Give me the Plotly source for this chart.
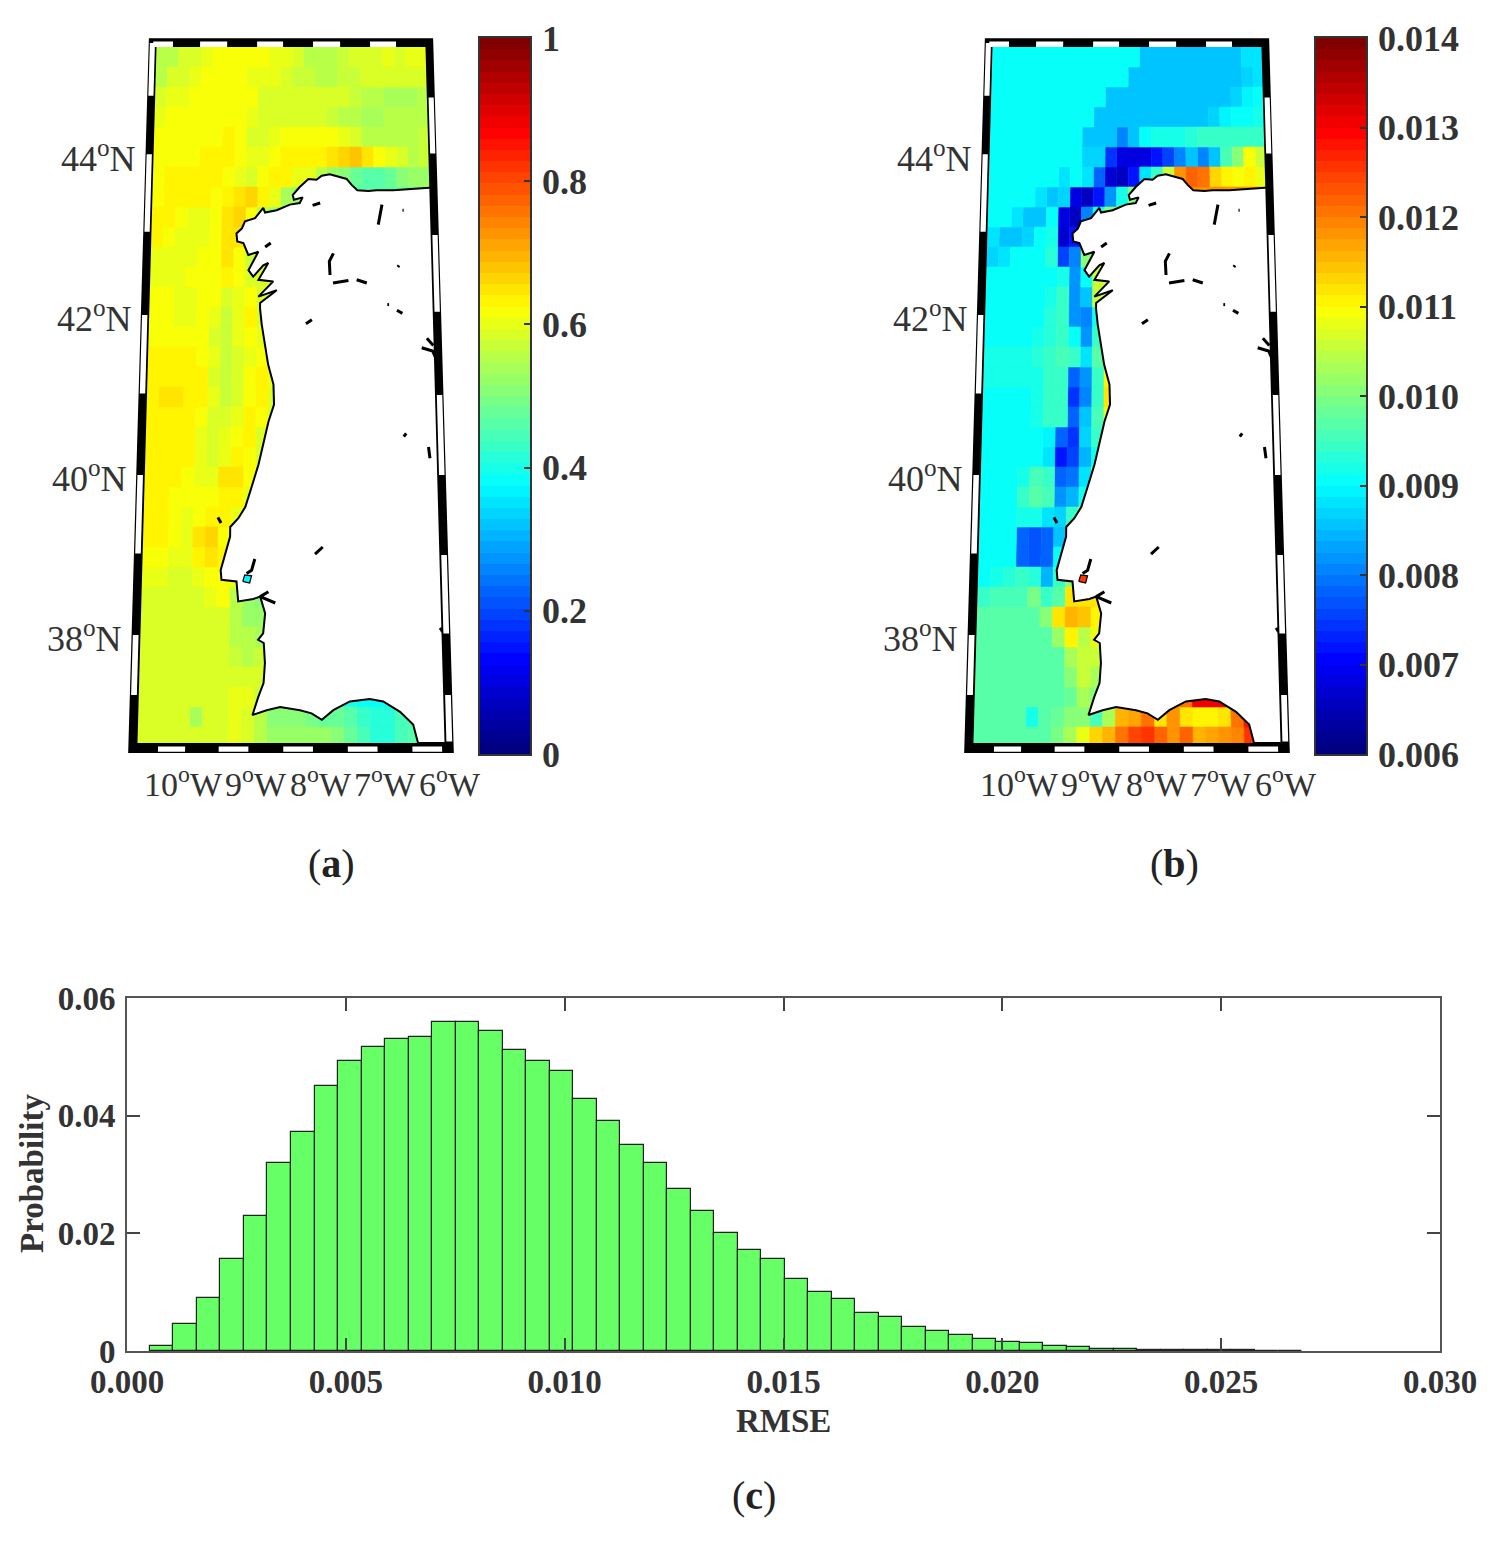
# -*- coding: utf-8 -*-
"""Two coastal maps of Portugal and Galicia with their colour bars, and an RMSE histogram."""

import plotly.graph_objects as go

WIDTH = 1503
HEIGHT = 1542
SERIF = "Liberation Serif"
INK = "#333333"

# --- map grid: 0.2 deg lon x 0.25 deg lat cells, rows run north to south
LON_WEST, LON_EAST = -10.72, -5.96
LAT_NORTH, LAT_SOUTH = 45.4, 36.7
CELL_LON = 0.2
CELL_LAT = 0.25

# left map, values x 100
score_rows = [
    [55, 56, 58, 59, 60, 61, 61, 61, 61, 61, 60, 60, 59, 56, 56, 56, 57, 58, 58, 59, 60, 59, 60, 60],
    [56, 58, 59, 60, 61, 61, 61, 61, 60, 60, 60, 58, 57, 57, 56, 56, 57, 57, 58, 58, 58, 59, 59, 58],
    [59, 60, 60, 61, 62, 62, 62, 62, 61, 59, 58, 58, 58, 58, 58, 58, 58, 57, 56, 55, 54, 54, 54, 55],
    [60, 61, 62, 62, 62, 62, 62, 61, 60, 58, 58, 58, 58, 58, 58, 57, 56, 55, 54, 54, 55, 55, 55, 55],
    [61, 62, 62, 62, 62, 62, 63, 61, 59, 58, 60, 61, 62, 62, 62, 61, 60, 58, 56, 55, 55, 56, 56, 57],
    [62, 62, 62, 62, 63, 63, 63, 62, 60, 60, 62, 63, 64, 63, 63, 65, 67, 68, 65, 62, 60, 58, 56, 57],
    [62, 63, 63, 64, 64, 64, 62, 60, 59, 62, 64, 63, 60, 60, 55, 52, 50, 47, 46, 46, 48, 50, 52, 52],
    [62, 64, 64, 64, 64, 62, 63, 65, 66, 63, 60, 54, 50, 46, 46, 46, 46, 46, 46, 46, 46, 46, 46, 46],
    [64, 63, 62, 60, 60, 62, 65, 67, 62, 55, 52, 50],
    [63, 62, 60, 60, 60, 61, 65, 65],
    [60, 60, 60, 60, 61, 62, 65, 62, 57, 56],
    [60, 60, 60, 61, 61, 61, 63, 61, 58, 58, 58],
    [61, 61, 60, 60, 61, 61, 59, 60, 61, 58, 58],
    [62, 61, 60, 60, 61, 60, 57, 60, 63, 59],
    [62, 62, 62, 61, 61, 58, 57, 60, 62, 60],
    [63, 63, 64, 63, 62, 60, 57, 58, 60, 61, 60],
    [64, 64, 64, 64, 63, 59, 57, 58, 62, 63, 60],
    [64, 65, 65, 64, 63, 60, 57, 58, 62, 63, 58],
    [64, 64, 64, 64, 62, 58, 58, 60, 64, 61, 59],
    [64, 64, 64, 63, 60, 58, 60, 62, 64, 59, 59],
    [64, 64, 64, 63, 60, 58, 60, 64, 61, 59],
    [64, 64, 64, 61, 60, 60, 65, 65, 62, 58],
    [64, 64, 62, 61, 61, 62, 63, 63, 60],
    [64, 64, 62, 60, 62, 63, 63, 60, 58],
    [64, 63, 61, 60, 65, 66, 62],
    [62, 61, 60, 60, 63, 65, 63],
    [60, 60, 59, 59, 60, 62, 62, 60],
    [59, 59, 59, 59, 59, 60, 61, 56, 52, 50],
    [59, 59, 59, 59, 59, 59, 58, 55, 52, 52],
    [59, 59, 59, 59, 59, 59, 58, 56, 55, 54],
    [59, 59, 59, 59, 59, 59, 58, 57, 55, 57],
    [59, 59, 59, 59, 59, 59, 59, 59, 58, 58],
    [59, 59, 59, 59, 59, 59, 59, 60, 60, 57, 50, 50, 48, 46, 44, 42, 40, 38, 38, 38, 40, 42, 44],
    [59, 59, 59, 59, 54, 59, 59, 60, 58, 55, 50, 50, 50, 49, 48, 48, 46, 43, 42, 42, 44, 45, 46],
    [59, 59, 59, 59, 59, 59, 59, 60, 59, 55, 53, 53, 53, 52, 52, 51, 48, 45, 42, 41, 45, 46],
]

# right map, values x 10000
rmse_rows = [
    [90, 90, 90, 90, 90, 90, 90, 90, 90, 90, 90, 90, 90, 86, 86, 86, 86, 86, 86, 86, 86, 86, 88, 88],
    [90, 90, 90, 90, 90, 90, 90, 90, 90, 90, 90, 90, 86, 86, 86, 86, 86, 86, 86, 86, 86, 86, 87, 88],
    [90, 90, 90, 90, 90, 90, 90, 90, 90, 90, 86, 86, 86, 86, 86, 86, 86, 86, 86, 86, 86, 87, 89, 90],
    [90, 90, 90, 90, 90, 90, 90, 90, 90, 86, 86, 86, 86, 86, 86, 86, 86, 86, 86, 87, 89, 90, 90, 92],
    [90, 90, 90, 90, 90, 90, 90, 90, 86, 86, 86, 80, 86, 91, 92, 92, 92, 93, 94, 94, 95, 95, 95, 95],
    [90, 90, 90, 90, 90, 90, 90, 90, 87, 87, 74, 68, 68, 68, 72, 75, 80, 85, 80, 85, 96, 100, 109, 106],
    [90, 90, 90, 90, 90, 90, 88, 90, 88, 78, 67, 66, 72, 88, 95, 105, 118, 122, 120, 113, 110, 109, 110, 108],
    [90, 90, 90, 90, 88, 86, 87, 68, 66, 72, 82, 92, 100, 118, 118, 118, 118, 118, 118, 118, 118, 118, 118, 118],
    [90, 90, 88, 86, 86, 90, 68, 66, 80, 92, 100, 108],
    [88, 86, 86, 87, 90, 92, 67, 72, 90],
    [87, 88, 90, 90, 91, 93, 76, 80, 100, 105],
    [90, 90, 90, 90, 91, 91, 92, 82, 90, 105, 105],
    [90, 90, 90, 90, 90, 92, 94, 82, 85, 105, 105],
    [90, 90, 90, 90, 91, 93, 94, 82, 80, 92],
    [91, 91, 91, 91, 92, 93, 94, 90, 82, 94],
    [92, 92, 92, 92, 93, 95, 96, 95, 88, 97, 100],
    [92, 92, 92, 92, 92, 94, 95, 78, 82, 95, 110],
    [91, 91, 91, 91, 92, 94, 94, 74, 80, 94, 112],
    [90, 90, 90, 90, 92, 95, 95, 78, 85, 96, 108],
    [90, 90, 90, 90, 90, 89, 78, 74, 87, 95, 105],
    [90, 90, 90, 90, 90, 88, 72, 76, 84, 92],
    [90, 90, 90, 92, 96, 94, 78, 79, 88, 100],
    [90, 90, 91, 94, 97, 96, 82, 84, 92],
    [90, 90, 91, 92, 92, 88, 87, 95, 112],
    [90, 90, 91, 78, 77, 78, 86],
    [91, 91, 90, 78, 77, 78, 90],
    [91, 92, 93, 94, 93, 84, 95, 100],
    [95, 96, 96, 96, 99, 95, 97, 112, 112, 112],
    [97, 97, 97, 97, 97, 100, 112, 116, 114, 110],
    [97, 97, 97, 97, 97, 97, 102, 111, 104, 108],
    [97, 97, 97, 97, 97, 97, 97, 103, 106, 105],
    [97, 97, 97, 97, 97, 97, 97, 100, 105, 103],
    [97, 97, 97, 97, 97, 97, 97, 98, 103, 100, 110, 112, 114, 114, 112, 116, 120, 130, 131, 130, 125, 122, 120],
    [97, 97, 97, 97, 92, 97, 98, 100, 100, 96, 103, 115, 117, 120, 112, 118, 112, 110, 110, 112, 120, 128, 125],
    [97, 97, 97, 97, 97, 97, 99, 103, 108, 113, 116, 121, 124, 125, 122, 118, 122, 115, 117, 118, 119, 125],
]
score_scale = 0.01
rmse_scale = 0.0001

# --- coastline, west coast from the eastern map edge round to the south coast
coast_lon = [
    -5.96, -6.24, -6.58, -6.87, -7.01, -7.20, -7.30, -7.38, -7.55, -7.67, -7.81, -7.90, -8.04, -8.19,
    -8.31, -8.29, -8.14, -8.19, -8.36, -8.585, -8.785, -8.815, -8.955, -9.126, -9.18, -9.27, -9.255,
    -9.15, -9.065, -8.895, -9.06, -8.98, -8.81, -8.725, -8.89, -8.64, -8.89, -8.58, -8.86, -8.86,
    -8.83, -8.77, -8.72, -8.63, -8.62, -8.71, -8.82, -8.87, -8.98, -9.08, -9.19, -9.32, -9.32, -9.38,
    -9.465, -9.45, -9.21, -9.18, -8.94, -8.83, -8.75, -8.78, -8.86, -8.77, -8.75, -8.77, -8.85, -8.94,
    -8.72, -8.51, -8.20, -8.02, -7.86, -7.68, -7.42, -7.11, -6.90, -6.64, -6.44, -6.37,
]
coast_lat = [
    43.64, 43.63, 43.61, 43.61, 43.60, 43.61, 43.68, 43.75, 43.78, 43.81, 43.79, 43.74, 43.75, 43.65,
    43.55, 43.49, 43.52, 43.45, 43.43, 43.36, 43.33, 43.39, 43.26, 43.22, 43.13, 43.07, 42.97,
    42.95, 42.80, 42.84, 42.61, 42.53, 42.67, 42.70, 42.49, 42.47, 42.28, 42.36, 42.20, 42.13,
    41.93, 41.67, 41.43, 41.18, 40.93, 40.72, 40.36, 40.18, 39.90, 39.65, 39.51, 39.40, 39.28, 39.11,
    38.86, 38.74, 38.72, 38.47, 38.50, 38.53, 38.32, 38.07, 37.99, 37.95, 37.70, 37.45, 37.28, 37.05,
    37.11, 37.15, 37.11, 37.07, 36.99, 37.11, 37.22, 37.25, 37.22, 37.09, 36.93, 36.70,
]

# rivers and reservoirs drawn as short black strokes (lon list, lat list)
inland_strokes = [
    ([-7.97, -7.84], [43.42, 43.45]),
    ([-6.85, -6.78], [43.18, 43.43]),
    ([-6.43, -6.41], [43.36, 43.36]),
    ([-8.78, -8.685], [42.90, 42.95]),
    ([-7.68, -7.69, -7.62], [42.55, 42.72, 42.82]),
    ([-7.63, -7.37], [42.45, 42.48]),
    ([-7.23, -7.06], [42.49, 42.45]),
    ([-6.53, -6.51], [42.65, 42.67]),
    ([-6.72, -6.69], [42.18, 42.18]),
    ([-6.56, -6.47], [42.11, 42.07]),
    ([-8.09, -7.99], [41.94, 41.99]),
    ([-6.16, -5.98, -5.94], [41.64, 41.60, 41.53]),
    ([-6.07, -5.965], [41.76, 41.67]),
    ([-6.49, -6.45], [40.53, 40.57]),
    ([-6.09, -6.07], [40.40, 40.26]),
    ([-7.955, -7.83], [39.06, 39.15]),
    ([-9.52, -9.47], [39.52, 39.45]),
    ([-9.05, -8.97, -8.92], [38.82, 38.86, 39.00]),
    ([-8.70, -8.83, -8.59], [38.59, 38.53, 38.45]),
    ([-5.98, -5.94], [38.14, 38.09]),
]

# Tagus estuary, filled with its own value on each map
estuary_lon = [-9.11, -9.08, -8.97, -9.00]
estuary_lat = [38.72, 38.80, 38.79, 38.70]
estuary_score = 0.37
estuary_rmse = 0.0125

# white segments of the fancy map frame
top_white = [(-10.78, -10.43), (-9.95, -9.47), (-8.94, -8.48), (-7.95, -7.47), (-6.94, -6.48)]
bottom_white = [(-10.4, -9.98), (-9.46, -9.0), (-8.46, -8.0), (-7.46, -7.0), (-6.46, -6.0)]
left_white = [(45.45, 44.79), (44.06, 43.09), (42.05, 41.07), (40.05, 39.07), (38.05, 37.3)]
right_white = [(44.77, 44.07), (43.05, 42.09), (41.05, 40.05), (39.05, 38.07), (37.3, 36.72)]

lat_ticks = [44, 42, 40, 38]
lon_ticks = [-10, -9, -8, -7, -6]

# --- histogram
rmse_bin_start = 0.000525
rmse_bin_width = 0.000537
rmse_probability = [
    0.0008, 0.00465, 0.0090, 0.0156, 0.0230, 0.0320, 0.0373, 0.0450, 0.0493, 0.0516, 0.0530, 0.0533,
    0.0560, 0.0560, 0.0544, 0.0512, 0.0493, 0.0476, 0.0428, 0.0391, 0.0350, 0.0320, 0.0275, 0.0238,
    0.0200, 0.0172, 0.0156, 0.0122, 0.0100, 0.0088, 0.0065, 0.0058, 0.0041, 0.0034, 0.0027, 0.0020,
    0.0015, 0.0013, 0.0008, 0.0006, 0.0004, 0.0003, 0.00025, 0.0002, 0.00015, 0.0001, 0.0001,
    0.00008, 0.00006,
]
hist_x_ticks = [0.0, 0.005, 0.01, 0.015, 0.02, 0.025, 0.03]
hist_y_ticks = [0, 0.02, 0.04, 0.06]
hist_y_labels = ["0", "0.02", "0.04", "0.06"]

score_bar_ticks = [0, 0.2, 0.4, 0.6, 0.8, 1]
score_bar_labels = ["0", "0.2", "0.4", "0.6", "0.8", "1"]
rmse_bar_ticks = [0.006, 0.007, 0.008, 0.009, 0.010, 0.011, 0.012, 0.013, 0.014]
rmse_bar_labels = ["0.006", "0.007", "0.008", "0.009", "0.010", "0.011", "0.012", "0.013", "0.014"]

N_LEVELS = 64


def jet_rgb(t):
    """MATLAB jet"""
    parts = []
    for c in (3, 2, 1):
        parts.append(int(round(255 * max(0.0, min(1.0, 1.5 - abs(4 * t - c))))))
    return "rgb(%d,%d,%d)" % tuple(parts)


def level_of(value, vmin, vmax):
    t = (value - vmin) / (vmax - vmin)
    return max(0, min(N_LEVELS - 1, int(t * N_LEVELS)))


def project(lon, lat):
    # meridians converge towards the north, unit is one degree at the southern edge
    k = 56.5 + (LAT_NORTH - lat) * 0.92
    return (lon + 8.34) * k / 64.5


def dx(px):
    return px / WIDTH


def dy(py):
    return 1 - py / HEIGHT


def ring(lons, lats):
    xs = [project(a, b) for a, b in zip(lons, lats)]
    ys = list(lats)
    return xs + [xs[0]], ys + [ys[0]]


def quad(lon0, lon1, lat0, lat1):
    return ring([lon0, lon1, lon1, lon0], [lat0, lat0, lat1, lat1])


def add_polygons(fig, polys, color, xa, ya, line_color=None, line_width=0):
    xs, ys = [], []
    for x, y in polys:
        xs += x + [None]
        ys += y + [None]
    fig.add_trace(go.Scatter(
        x=xs, y=ys, mode="lines", fill="toself", fillcolor=color,
        line=dict(color=line_color or color, width=line_width),
        xaxis=xa, yaxis=ya, hoverinfo="skip", showlegend=False,
    ))


def add_map(fig, rows, scale, vmin, vmax, estuary_value, left_px, xa, ya):
    by_level = {}
    for i, row in enumerate(rows):
        for j, v in enumerate(row):
            lon0 = LON_WEST + j * CELL_LON
            lat1 = LAT_NORTH - i * CELL_LAT
            lv = level_of(v * scale, vmin, vmax)
            by_level.setdefault(lv, []).append(quad(lon0, lon0 + CELL_LON, lat1 - CELL_LAT, lat1))
    for lv in sorted(by_level):
        add_polygons(fig, by_level[lv], jet_rgb(lv / (N_LEVELS - 1)), xa, ya, line_width=0.6)

    # land on top of the grid
    land_lon = coast_lon + [LON_EAST + 0.04, LON_EAST + 0.04]
    land_lat = coast_lat + [LAT_SOUTH, coast_lat[0]]
    add_polygons(fig, [ring(land_lon, land_lat)], "white", xa, ya, line_color="black", line_width=2)
    est = jet_rgb(level_of(estuary_value, vmin, vmax) / (N_LEVELS - 1))
    add_polygons(fig, [ring(estuary_lon, estuary_lat)], est, xa, ya, line_color="black", line_width=1.2)
    for lons, lats in inland_strokes:
        fig.add_trace(go.Scatter(
            x=[project(a, b) for a, b in zip(lons, lats)], y=lats, mode="lines",
            line=dict(color="black", width=3), xaxis=xa, yaxis=ya,
            hoverinfo="skip", showlegend=False,
        ))

    # frame: black band then white dashes
    lon_out_w, lon_out_e = LON_WEST - 0.14, LON_EAST + 0.14
    lat_out_n, lat_out_s = LAT_NORTH + 0.11, LAT_SOUTH - 0.125
    black = [
        quad(lon_out_w, lon_out_e, LAT_NORTH, lat_out_n),
        quad(lon_out_w, lon_out_e, lat_out_s, LAT_SOUTH),
        quad(lon_out_w, LON_WEST, lat_out_s, lat_out_n),
        quad(LON_EAST, lon_out_e, lat_out_s, lat_out_n),
    ]
    add_polygons(fig, black, "black", xa, ya)
    white = []
    for a, b in top_white:
        white.append(quad(a, b, LAT_NORTH + 0.0, LAT_NORTH + 0.07))
    for a, b in bottom_white:
        white.append(quad(a, b, LAT_SOUTH - 0.11, LAT_SOUTH - 0.045))
    for a, b in left_white:
        white.append(quad(LON_WEST - 0.12, LON_WEST - 0.03, b, a))
    for a, b in right_white:
        white.append(quad(LON_EAST + 0.03, LON_EAST + 0.12, b, a))
    add_polygons(fig, white, "white", xa, ya)

    # graticule labels
    for lat in lat_ticks:
        fig.add_annotation(
            x=project(lon_out_w, lat), y=lat, xref=xa, yref=ya, xanchor="right", yanchor="middle",
            xshift=-7, yshift=3, text="%d<sup>o</sup>N" % lat, showarrow=False,
            font=dict(family=SERIF, size=36, color=INK),
        )
    for lon in lon_ticks:
        fig.add_annotation(
            x=project(lon, LAT_SOUTH), y=LAT_SOUTH, xref=xa, yref=ya, xanchor="right", yanchor="middle",
            yshift=-39, xshift=41, text="%d<sup>o</sup>W" % abs(lon), showarrow=False,
            font=dict(family=SERIF, size=34, color=INK),
        )

    # axes: window of 350 x 745 px, 64.5 px = 1 unit and 80 px = 1 degree of latitude
    x_range = [(120 - 291) / 64.5, (470 - 291) / 64.5]
    y_range = [LAT_NORTH - (770 - 47) / 80, LAT_NORTH - (25 - 47) / 80]
    return dict(domain=[dx(left_px), dx(left_px + 350)], range=x_range, visible=False, automargin=False), \
        dict(domain=[dy(770), dy(25)], range=y_range, visible=False, automargin=False)


def add_colorbar(fig, vmin, vmax, left_px, xa, ya, ticks, labels):
    step = (vmax - vmin) / N_LEVELS
    fig.add_trace(go.Heatmap(
        z=[[i] for i in range(N_LEVELS)], x=[0], y=[vmin + (i + 0.5) * step for i in range(N_LEVELS)],
        zmin=0, zmax=N_LEVELS - 1, showscale=False, hoverinfo="skip",
        colorscale=[[i / (N_LEVELS - 1), jet_rgb(i / (N_LEVELS - 1))] for i in range(N_LEVELS)],
        xaxis=xa, yaxis=ya,
    ))
    x_axis = dict(domain=[dx(left_px), dx(left_px + 50)], range=[-0.5, 0.5], showticklabels=False,
                  ticks="", showgrid=False, zeroline=False, showline=True, linecolor="#333333",
                  linewidth=1.5, mirror=True, anchor=ya, automargin=False)
    y_axis = dict(domain=[dy(754), dy(38)], range=[vmin, vmax], side="right", anchor=xa,
                  tickvals=ticks, ticktext=labels, ticks="inside", ticklen=6, tickwidth=1.5,
                  tickcolor="#333333", showgrid=False, zeroline=False, showline=True,
                  linecolor="#333333", linewidth=1.5, mirror=True, automargin=False,
                  ticklabelstandoff=3, tickfont=dict(family=SERIF, size=36, color=INK, weight=700))
    return x_axis, y_axis


fig = go.Figure()

x1, y1 = add_map(fig, score_rows, score_scale, 0.0, 1.0, estuary_score, 120, "x", "y")
x2, y2 = add_map(fig, rmse_rows, rmse_scale, 0.006, 0.014, estuary_rmse, 956, "x2", "y2")
x3, y3 = add_colorbar(fig, 0.0, 1.0, 480, "x3", "y3", score_bar_ticks, score_bar_labels)
x4, y4 = add_colorbar(fig, 0.006, 0.014, 1316, "x4", "y4", rmse_bar_ticks, rmse_bar_labels)

# histogram bars
fig.add_trace(go.Bar(
    x=[rmse_bin_start + (i + 0.5) * rmse_bin_width for i in range(len(rmse_probability))],
    y=rmse_probability, width=rmse_bin_width,
    marker=dict(color="#66ff66", line=dict(color="#222222", width=1.2)),
    xaxis="x5", yaxis="y5", showlegend=False,
))

hist_font = dict(family=SERIF, size=33, color=INK, weight=700)
x5 = dict(domain=[dx(127), dx(1440)], range=[0, 0.03], tickvals=hist_x_ticks, tickformat=".3f",
          ticks="inside", ticklen=13, tickwidth=1.5, tickcolor="#444444", showgrid=False, zeroline=False,
          showline=True, linecolor="#555555", linewidth=2, mirror="ticks", tickfont=hist_font,
          ticklabelstandoff=0, automargin=False, anchor="y5")
y5 = dict(domain=[dy(1351), dy(998)], range=[0, 0.06], tickvals=hist_y_ticks, ticktext=hist_y_labels,
          ticks="inside", ticklen=13, tickwidth=1.5, tickcolor="#444444", showgrid=False, zeroline=False,
          showline=True, linecolor="#555555", linewidth=2, mirror="ticks", tickfont=hist_font,
          ticklabelstandoff=3, automargin=False, anchor="x5")

fig.add_annotation(x=dx(783), y=dy(1421), xref="paper", yref="paper", text="RMSE", showarrow=False,
                   font=hist_font, xanchor="center", yanchor="middle")
fig.add_annotation(x=dx(32), y=dy(1174), xref="paper", yref="paper", text="Probability", showarrow=False,
                   font=hist_font, xanchor="center", yanchor="middle", textangle=-90)

panel_font = dict(family=SERIF, size=40, color="#222222")
for label, px, py in [("a", 331, 863), ("b", 1174, 863), ("c", 754, 1495)]:
    fig.add_annotation(x=dx(px), y=dy(py), xref="paper", yref="paper", text="(<b>%s</b>)" % label,
                       showarrow=False, font=panel_font, xanchor="center", yanchor="middle")

fig.update_layout(
    width=WIDTH, height=HEIGHT, margin=dict(l=0, r=0, t=0, b=0),
    paper_bgcolor="white", plot_bgcolor="white", showlegend=False, bargap=0,
    xaxis=x1, yaxis=y1, xaxis2=x2, yaxis2=y2, xaxis3=x3, yaxis3=y3, xaxis4=x4, yaxis4=y4,
    xaxis5=x5, yaxis5=y5,
)

fig.write_html("out.html", config={"displayModeBar": False}, post_script="document.body.style.margin='0';")
